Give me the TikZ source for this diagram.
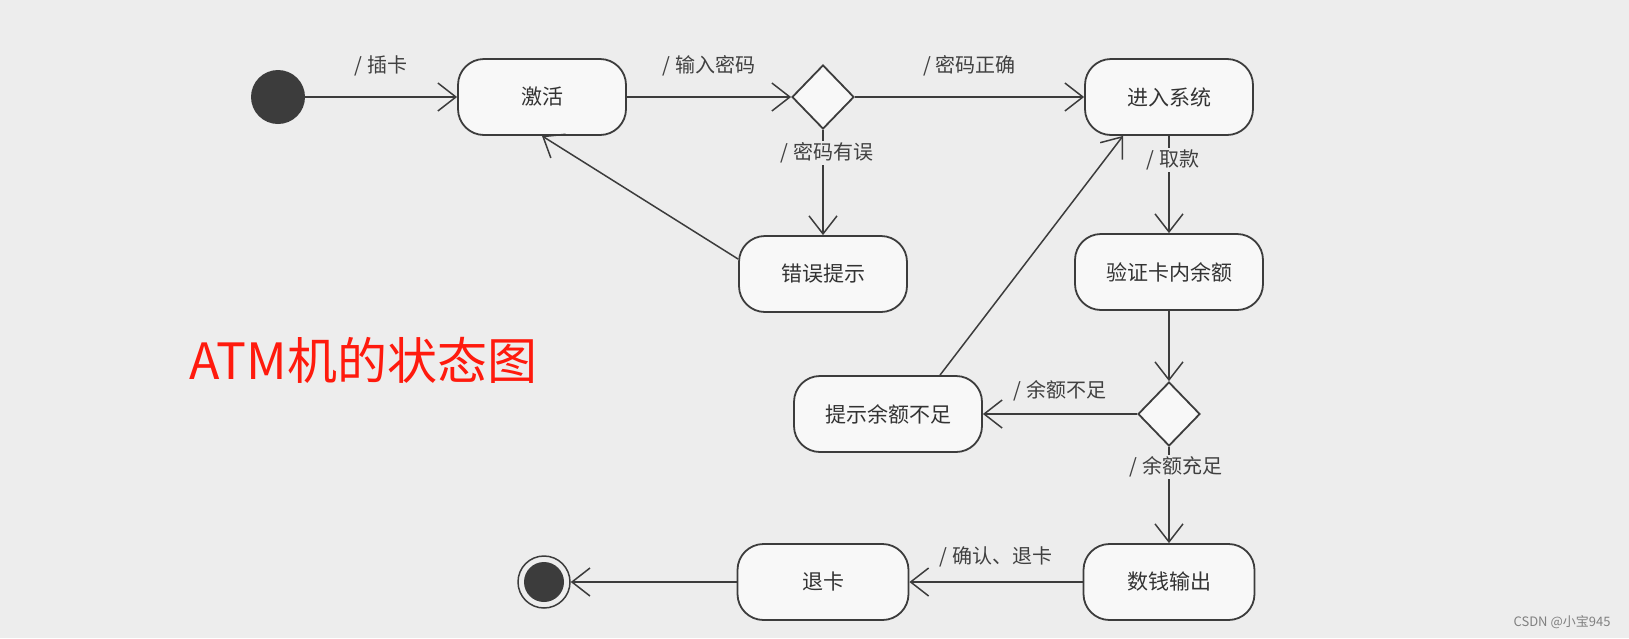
\documentclass[tikz,border=0pt]{standalone}
\usepackage{fontspec}
\usetikzlibrary{shapes.geometric, arrows.meta}
\newfontfamily\cjk{Noto Sans CJK SC}
\definecolor{bgcol}{HTML}{EDEDED}
\definecolor{linecol}{HTML}{3C3C3C}
\definecolor{boxfill}{HTML}{F8F8F8}
\definecolor{titlered}{HTML}{FF1A0D}

\begin{document}
\begin{tikzpicture}[x=1pt, y=-1pt,
    state/.style={rectangle, rounded corners=26pt, draw=linecol, line width=1.8pt, fill=boxfill, minimum width=168pt, minimum height=76pt, font=\cjk\fontsize{21}{21}\selectfont, text=black!80},
    choice/.style={diamond, draw=linecol, line width=1.8pt, fill=boxfill, minimum width=62pt, minimum height=64pt, inner sep=0pt},
    trans/.style={draw=linecol, line width=1.5pt, -{Straight Barb[length=18pt, width=28pt]}},
    lbl/.style={fill=bgcol, inner sep=2pt, font=\cjk\fontsize{20}{20}\selectfont, text=black!75}]

    % Background
    \fill[bgcol] (0,0) rectangle (1629,638);
    \useasboundingbox (0,0) rectangle (1629,638);

    % Draw nodes
    \node[circle, fill=linecol, minimum size=54pt] (start) at (278,97) {};
    \node[state] (jihuo) at (542,97) {激活};
    \node[choice] (check) at (823,97) {};
    \node[state] (jinru) at (1169,97) {进入系统};
    \node[state] (cuowu) at (823,274) {错误提示};
    \node[state, minimum width=188pt] (yanzheng) at (1169,272) {验证卡内余额};
    \node[choice] (enough) at (1169,414) {};
    \node[state, minimum width=188pt] (buzu) at (888,414) {提示余额不足};
    \node[state, minimum width=171pt] (shuqian) at (1169,582) {数钱输出};
    \node[state, minimum width=171pt] (tuika) at (823,582) {退卡};
    \node[circle, draw=linecol, line width=1.5pt, fill=bgcol, minimum size=52pt,
        path picture={\fill[linecol] (path picture bounding box.center) circle (20pt);}] (stop) at (544,582) {};

    % Draw connections
    \draw[trans] (start) -- (jihuo) node[midway, above=18pt, lbl] {/ 插卡};
    \draw[trans] (jihuo) -- (check) node[midway, above=18pt, lbl] {/ 输入密码};
    \draw[trans] (check) -- (jinru) node[midway, above=18pt, lbl] {/ 密码正确};
    \draw[trans] (check) -- (cuowu) node[pos=0.22, xshift=4pt, lbl] {/ 密码有误};
    \draw[trans] (cuowu.170) -- (jihuo.south);
    \draw[trans] (jinru) -- (yanzheng) node[pos=0.25, xshift=4pt, lbl] {/ 取款};
    \draw[trans] (yanzheng) -- (enough);
    \draw[trans] (enough) -- (buzu) node[midway, above=10pt, lbl] {/ 余额不足};
    \draw[trans] ([xshift=52pt]buzu.north) -- ([xshift=-46pt]jinru.south);
    \draw[trans] (enough) -- (shuqian) node[pos=0.21, xshift=7pt, lbl] {/ 余额充足};
    \draw[trans] (shuqian) -- (tuika) node[midway, above=12pt, lbl] {/ 确认、退卡};
    \draw[trans] (tuika) -- (stop);

    % Labels
    \node[font=\cjk\fontsize{50}{50}\selectfont, text=titlered] (title) at (363,360) {ATM机的状态图};
    \node[anchor=east, font=\cjk\fontsize{13}{13}\selectfont, text=gray] (mark) at (1614,622) {CSDN @小宝945};
\end{tikzpicture}
\end{document}
